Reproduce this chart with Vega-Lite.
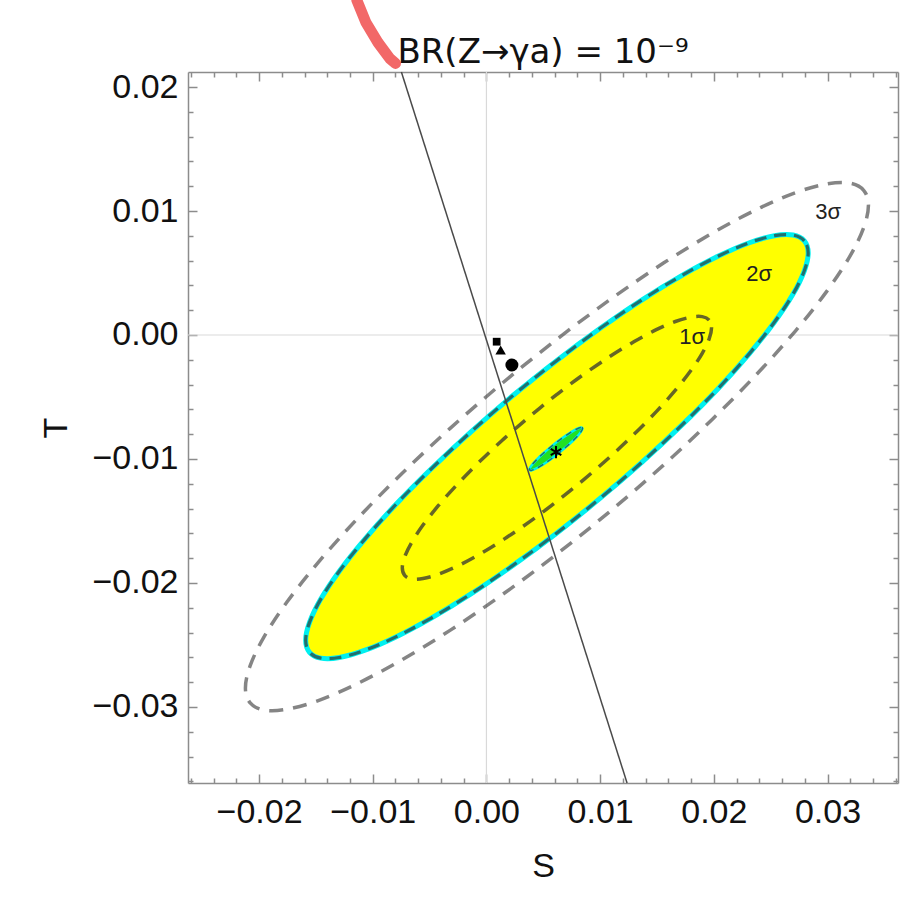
{
  "$schema": "https://vega.github.io/schema/vega-lite/v6.json",
  "width": 710,
  "height": 711,
  "autosize": {"type": "none"},
  "padding": {"left": 188, "top": 72, "right": 24, "bottom": 122},
  "background": "white",
  "config": {"view": {"stroke": null}, "font": "Liberation Sans"},
  "title": {
    "text": "BR(Z→γa) = 10⁻⁹",
    "font": "DejaVu Sans",
    "fontSize": 34,
    "fontWeight": "normal",
    "color": "#111111",
    "anchor": "middle",
    "baseline": "alphabetic",
    "offset": -102
  },
  "datasets": {
    "sigma3": [
      {"i": 0, "S": 0.03360, "T": 0.01046}, {"i": 1, "S": 0.03318, "T": 0.01167},
      {"i": 2, "S": 0.03195, "T": 0.01225}, {"i": 3, "S": 0.02993, "T": 0.01218},
      {"i": 4, "S": 0.02719, "T": 0.01148}, {"i": 5, "S": 0.02381, "T": 0.01014},
      {"i": 6, "S": 0.01990, "T": 0.00823}, {"i": 7, "S": 0.01557, "T": 0.00580},
      {"i": 8, "S": 0.01096, "T": 0.00291}, {"i": 9, "S": 0.00620, "T": -0.00034},
      {"i": 10, "S": 0.00144, "T": -0.00385}, {"i": 11, "S": -0.00317, "T": -0.00751},
      {"i": 12, "S": -0.00750, "T": -0.01123}, {"i": 13, "S": -0.01141, "T": -0.01487},
      {"i": 14, "S": -0.01479, "T": -0.01834}, {"i": 15, "S": -0.01753, "T": -0.02152},
      {"i": 16, "S": -0.01955, "T": -0.02432}, {"i": 17, "S": -0.02078, "T": -0.02666},
      {"i": 18, "S": -0.02120, "T": -0.02846}, {"i": 19, "S": -0.02078, "T": -0.02967},
      {"i": 20, "S": -0.01955, "T": -0.03025}, {"i": 21, "S": -0.01753, "T": -0.03018},
      {"i": 22, "S": -0.01479, "T": -0.02948}, {"i": 23, "S": -0.01141, "T": -0.02814},
      {"i": 24, "S": -0.00750, "T": -0.02623}, {"i": 25, "S": -0.00317, "T": -0.02380},
      {"i": 26, "S": 0.00144, "T": -0.02091}, {"i": 27, "S": 0.00620, "T": -0.01766},
      {"i": 28, "S": 0.01096, "T": -0.01415}, {"i": 29, "S": 0.01557, "T": -0.01049},
      {"i": 30, "S": 0.01990, "T": -0.00677}, {"i": 31, "S": 0.02381, "T": -0.00313},
      {"i": 32, "S": 0.02719, "T": 0.00034}, {"i": 33, "S": 0.02993, "T": 0.00352},
      {"i": 34, "S": 0.03195, "T": 0.00632}, {"i": 35, "S": 0.03318, "T": 0.00866}
    ],
    "sigma2": [
      {"i": 0, "S": 0.02830, "T": 0.00662}, {"i": 1, "S": 0.02796, "T": 0.00759},
      {"i": 2, "S": 0.02697, "T": 0.00806}, {"i": 3, "S": 0.02534, "T": 0.00801},
      {"i": 4, "S": 0.02313, "T": 0.00744}, {"i": 5, "S": 0.02041, "T": 0.00637},
      {"i": 6, "S": 0.01725, "T": 0.00483}, {"i": 7, "S": 0.01376, "T": 0.00288},
      {"i": 8, "S": 0.01004, "T": 0.00056}, {"i": 9, "S": 0.00620, "T": -0.00205},
      {"i": 10, "S": 0.00236, "T": -0.00486}, {"i": 11, "S": -0.00136, "T": -0.00781},
      {"i": 12, "S": -0.00485, "T": -0.01079}, {"i": 13, "S": -0.00801, "T": -0.01371},
      {"i": 14, "S": -0.01073, "T": -0.01650}, {"i": 15, "S": -0.01294, "T": -0.01905},
      {"i": 16, "S": -0.01457, "T": -0.02130}, {"i": 17, "S": -0.01556, "T": -0.02318},
      {"i": 18, "S": -0.01590, "T": -0.02462}, {"i": 19, "S": -0.01556, "T": -0.02559},
      {"i": 20, "S": -0.01457, "T": -0.02606}, {"i": 21, "S": -0.01294, "T": -0.02601},
      {"i": 22, "S": -0.01073, "T": -0.02544}, {"i": 23, "S": -0.00801, "T": -0.02437},
      {"i": 24, "S": -0.00485, "T": -0.02283}, {"i": 25, "S": -0.00136, "T": -0.02088},
      {"i": 26, "S": 0.00236, "T": -0.01856}, {"i": 27, "S": 0.00620, "T": -0.01596},
      {"i": 28, "S": 0.01004, "T": -0.01314}, {"i": 29, "S": 0.01376, "T": -0.01019},
      {"i": 30, "S": 0.01725, "T": -0.00721}, {"i": 31, "S": 0.02041, "T": -0.00429},
      {"i": 32, "S": 0.02313, "T": -0.00150}, {"i": 33, "S": 0.02534, "T": 0.00105},
      {"i": 34, "S": 0.02697, "T": 0.00330}, {"i": 35, "S": 0.02796, "T": 0.00518}
    ],
    "sigma1": [
      {"i": 0, "S": 0.01980, "T": 0.00058}, {"i": 1, "S": 0.01959, "T": 0.00119},
      {"i": 2, "S": 0.01898, "T": 0.00148}, {"i": 3, "S": 0.01798, "T": 0.00144},
      {"i": 4, "S": 0.01662, "T": 0.00109}, {"i": 5, "S": 0.01494, "T": 0.00043},
      {"i": 6, "S": 0.01300, "T": -0.00053}, {"i": 7, "S": 0.01085, "T": -0.00174},
      {"i": 8, "S": 0.00856, "T": -0.00317}, {"i": 9, "S": 0.00620, "T": -0.00479},
      {"i": 10, "S": 0.00384, "T": -0.00654}, {"i": 11, "S": 0.00155, "T": -0.00836},
      {"i": 12, "S": -0.00060, "T": -0.01021}, {"i": 13, "S": -0.00254, "T": -0.01202},
      {"i": 14, "S": -0.00422, "T": -0.01375}, {"i": 15, "S": -0.00558, "T": -0.01533},
      {"i": 16, "S": -0.00658, "T": -0.01673}, {"i": 17, "S": -0.00719, "T": -0.01789},
      {"i": 18, "S": -0.00740, "T": -0.01878}, {"i": 19, "S": -0.00719, "T": -0.01939},
      {"i": 20, "S": -0.00658, "T": -0.01968}, {"i": 21, "S": -0.00558, "T": -0.01964},
      {"i": 22, "S": -0.00422, "T": -0.01929}, {"i": 23, "S": -0.00254, "T": -0.01863},
      {"i": 24, "S": -0.00060, "T": -0.01768}, {"i": 25, "S": 0.00155, "T": -0.01646},
      {"i": 26, "S": 0.00384, "T": -0.01503}, {"i": 27, "S": 0.00620, "T": -0.01341},
      {"i": 28, "S": 0.00856, "T": -0.01166}, {"i": 29, "S": 0.01085, "T": -0.00984},
      {"i": 30, "S": 0.01300, "T": -0.00799}, {"i": 31, "S": 0.01494, "T": -0.00618},
      {"i": 32, "S": 0.01662, "T": -0.00445}, {"i": 33, "S": 0.01798, "T": -0.00287},
      {"i": 34, "S": 0.01898, "T": -0.00148}, {"i": 35, "S": 0.01959, "T": -0.00031}
    ],
    "core": [
      {"i": 0, "S": 0.00845, "T": -0.00754}, {"i": 1, "S": 0.00831, "T": -0.00746},
      {"i": 2, "S": 0.00791, "T": -0.00760}, {"i": 3, "S": 0.00729, "T": -0.00793},
      {"i": 4, "S": 0.00652, "T": -0.00841}, {"i": 5, "S": 0.00572, "T": -0.00898},
      {"i": 6, "S": 0.00496, "T": -0.00958}, {"i": 7, "S": 0.00434, "T": -0.01013},
      {"i": 8, "S": 0.00393, "T": -0.01057}, {"i": 9, "S": 0.00379, "T": -0.01084},
      {"i": 10, "S": 0.00393, "T": -0.01092}, {"i": 11, "S": 0.00434, "T": -0.01078},
      {"i": 12, "S": 0.00496, "T": -0.01046}, {"i": 13, "S": 0.00572, "T": -0.00998},
      {"i": 14, "S": 0.00652, "T": -0.00940}, {"i": 15, "S": 0.00729, "T": -0.00880},
      {"i": 16, "S": 0.00791, "T": -0.00825}, {"i": 17, "S": 0.00831, "T": -0.00781}
    ],
    "constraint": [
      {"S": -0.00748, "T": 0.02121},
      {"S": 0.01237, "T": -0.03613}
    ],
    "stroke": [
      {"i": 0, "S": -0.01140, "T": 0.02700},
      {"i": 1, "S": -0.01060, "T": 0.02520},
      {"i": 2, "S": -0.00955, "T": 0.02360},
      {"i": 3, "S": -0.00850, "T": 0.02230},
      {"i": 4, "S": -0.00800, "T": 0.02190}
    ],
    "models": [
      {"model": "A", "S": 0.00090, "T": -0.00054},
      {"model": "B", "S": 0.00125, "T": -0.00121},
      {"model": "C", "S": 0.00224, "T": -0.00242}
    ],
    "bestfit": [{"S": 0.00612, "T": -0.00944}],
    "labels": [
      {"text": "1σ", "S": 0.01809, "T": -0.00016},
      {"text": "2σ", "S": 0.02399, "T": 0.00492},
      {"text": "3σ", "S": 0.03006, "T": 0.00992}
    ]
  },
  "layer": [
    {
      "data": {"values": [{"S": 0}]},
      "mark": {"type": "rule", "color": "#d9d9d9", "strokeWidth": 1.2},
      "encoding": {
        "x": {"field": "S", "type": "quantitative", "axis": null,
              "scale": {"domain": [-0.02625, 0.0362], "nice": false, "zero": false}}
      }
    },
    {
      "data": {"values": [{"T": 0}]},
      "mark": {"type": "rule", "color": "#d9d9d9", "strokeWidth": 1.2},
      "encoding": {
        "y": {"field": "T", "type": "quantitative", "axis": null,
              "scale": {"domain": [-0.03613, 0.02121], "nice": false, "zero": false}}
      }
    },
    {
      "data": {"name": "sigma3"},
      "mark": {"type": "line", "interpolate": "cardinal-closed", "stroke": "#333333", "strokeOpacity": 0.6, "strokeWidth": 3.5, "strokeDash": [14, 10]},
      "encoding": {
        "x": {"field": "S", "type": "quantitative",
              "scale": {"domain": [-0.02625, 0.0362], "nice": false, "zero": false},
              "axis": {
                "orient": "bottom",
                "values": [-0.026, -0.024, -0.022, -0.02, -0.018, -0.016, -0.014, -0.012, -0.01, -0.008, -0.006, -0.004, -0.002, 0, 0.002, 0.004, 0.006, 0.008, 0.01, 0.012, 0.014, 0.016, 0.018, 0.02, 0.022, 0.024, 0.026, 0.028, 0.03, 0.032, 0.034, 0.036],
                "labelExpr": "abs(datum.value * 100 - round(datum.value * 100)) < 0.01 ? format(datum.value, '.2f') : ''",
                "grid": false,
                "tickSize": -9,
                "tickDash": {"condition": {"test": "abs(datum.value * 100 - round(datum.value * 100)) < 0.01", "value": [9, 0]}, "value": [5, 30]},
                "tickColor": "#8c8c8c", "tickWidth": 1.5,
                "domainColor": "#8c8c8c", "domainWidth": 1.5,
                "labelFont": "Liberation Sans", "labelFontSize": 34, "labelColor": "#111111",
                "labelPadding": 21, "labelFlush": false, "labelOverlap": false, "labelBound": false,
                "title": "S", "titleFont": "Liberation Sans", "titleFontSize": 34, "titleFontWeight": "normal",
                "titleColor": "#111111", "titlePadding": 20
              }},
        "y": {"field": "T", "type": "quantitative",
              "scale": {"domain": [-0.03613, 0.02121], "nice": false, "zero": false},
              "axis": {
                "orient": "left",
                "values": [-0.036, -0.034, -0.032, -0.03, -0.028, -0.026, -0.024, -0.022, -0.02, -0.018, -0.016, -0.014, -0.012, -0.01, -0.008, -0.006, -0.004, -0.002, 0, 0.002, 0.004, 0.006, 0.008, 0.01, 0.012, 0.014, 0.016, 0.018, 0.02],
                "labelExpr": "abs(datum.value * 100 - round(datum.value * 100)) < 0.01 ? format(datum.value, '.2f') : ''",
                "grid": false,
                "tickSize": -9,
                "tickDash": {"condition": {"test": "abs(datum.value * 100 - round(datum.value * 100)) < 0.01", "value": [9, 0]}, "value": [5, 30]},
                "tickColor": "#8c8c8c", "tickWidth": 1.5,
                "domainColor": "#8c8c8c", "domainWidth": 1.5,
                "labelFont": "Liberation Sans", "labelFontSize": 34, "labelColor": "#111111",
                "labelPadding": 19, "labelFlush": false, "labelOverlap": false, "labelBound": false,
                "title": "T", "titleFont": "Liberation Sans", "titleFontSize": 34, "titleFontWeight": "normal",
                "titleColor": "#111111", "titlePadding": 18
              }},
        "order": {"field": "i", "type": "quantitative"}
      }
    },
    {
      "data": {"name": "sigma2"},
      "mark": {"type": "line", "interpolate": "cardinal-closed", "fill": "#ffff00", "stroke": "#00f0f0", "strokeWidth": 5},
      "encoding": {
        "x": {"field": "S", "type": "quantitative",
              "scale": {"domain": [-0.02625, 0.0362], "nice": false, "zero": false},
              "axis": {
                "orient": "top",
                "values": [-0.026, -0.024, -0.022, -0.02, -0.018, -0.016, -0.014, -0.012, -0.01, -0.008, -0.006, -0.004, -0.002, 0, 0.002, 0.004, 0.006, 0.008, 0.01, 0.012, 0.014, 0.016, 0.018, 0.02, 0.022, 0.024, 0.026, 0.028, 0.03, 0.032, 0.034, 0.036],
                "labels": false, "grid": false, "title": null,
                "tickSize": -9,
                "tickDash": {"condition": {"test": "abs(datum.value * 100 - round(datum.value * 100)) < 0.01", "value": [9, 0]}, "value": [5, 30]},
                "tickColor": "#8c8c8c", "tickWidth": 1.5,
                "domainColor": "#8c8c8c", "domainWidth": 1.5
              }},
        "y": {"field": "T", "type": "quantitative",
              "scale": {"domain": [-0.03613, 0.02121], "nice": false, "zero": false},
              "axis": {
                "orient": "right",
                "values": [-0.036, -0.034, -0.032, -0.03, -0.028, -0.026, -0.024, -0.022, -0.02, -0.018, -0.016, -0.014, -0.012, -0.01, -0.008, -0.006, -0.004, -0.002, 0, 0.002, 0.004, 0.006, 0.008, 0.01, 0.012, 0.014, 0.016, 0.018, 0.02],
                "labels": false, "grid": false, "title": null,
                "tickSize": -9,
                "tickDash": {"condition": {"test": "abs(datum.value * 100 - round(datum.value * 100)) < 0.01", "value": [9, 0]}, "value": [5, 30]},
                "tickColor": "#8c8c8c", "tickWidth": 1.5,
                "domainColor": "#8c8c8c", "domainWidth": 1.5
              }},
        "order": {"field": "i", "type": "quantitative"}
      }
    },
    {
      "data": {"name": "sigma2"},
      "mark": {"type": "line", "interpolate": "cardinal-closed", "stroke": "#21706f", "strokeWidth": 3.2, "strokeDash": [12, 8]},
      "encoding": {
        "x": {"field": "S", "type": "quantitative", "axis": null,
              "scale": {"domain": [-0.02625, 0.0362], "nice": false, "zero": false}},
        "y": {"field": "T", "type": "quantitative", "axis": null,
              "scale": {"domain": [-0.03613, 0.02121], "nice": false, "zero": false}},
        "order": {"field": "i", "type": "quantitative"}
      }
    },
    {
      "data": {"name": "sigma1"},
      "mark": {"type": "line", "interpolate": "cardinal-closed", "stroke": "#333333", "strokeOpacity": 0.75, "strokeWidth": 3.5, "strokeDash": [14, 10]},
      "encoding": {
        "x": {"field": "S", "type": "quantitative", "axis": null,
              "scale": {"domain": [-0.02625, 0.0362], "nice": false, "zero": false}},
        "y": {"field": "T", "type": "quantitative", "axis": null,
              "scale": {"domain": [-0.03613, 0.02121], "nice": false, "zero": false}},
        "order": {"field": "i", "type": "quantitative"}
      }
    },
    {
      "data": {"name": "core"},
      "mark": {"type": "line", "interpolate": "cardinal-closed", "fill": "#22e022", "stroke": "#00f0f0", "strokeWidth": 2.5},
      "encoding": {
        "x": {"field": "S", "type": "quantitative", "axis": null,
              "scale": {"domain": [-0.02625, 0.0362], "nice": false, "zero": false}},
        "y": {"field": "T", "type": "quantitative", "axis": null,
              "scale": {"domain": [-0.03613, 0.02121], "nice": false, "zero": false}},
        "order": {"field": "i", "type": "quantitative"}
      }
    },
    {
      "data": {"name": "core"},
      "mark": {"type": "line", "interpolate": "cardinal-closed", "stroke": "#21706f", "strokeWidth": 1.5, "strokeDash": [6, 5]},
      "encoding": {
        "x": {"field": "S", "type": "quantitative", "axis": null,
              "scale": {"domain": [-0.02625, 0.0362], "nice": false, "zero": false}},
        "y": {"field": "T", "type": "quantitative", "axis": null,
              "scale": {"domain": [-0.03613, 0.02121], "nice": false, "zero": false}},
        "order": {"field": "i", "type": "quantitative"}
      }
    },
    {
      "data": {"name": "constraint"},
      "mark": {"type": "line", "stroke": "#4a4a4a", "strokeWidth": 1.5},
      "encoding": {
        "x": {"field": "S", "type": "quantitative", "axis": null,
              "scale": {"domain": [-0.02625, 0.0362], "nice": false, "zero": false}},
        "y": {"field": "T", "type": "quantitative", "axis": null,
              "scale": {"domain": [-0.03613, 0.02121], "nice": false, "zero": false}}
      }
    },
    {
      "data": {"name": "stroke"},
      "mark": {"type": "line", "clip": false, "stroke": "#f26868", "strokeWidth": 11, "strokeCap": "round", "strokeJoin": "round"},
      "encoding": {
        "x": {"field": "S", "type": "quantitative", "axis": null,
              "scale": {"domain": [-0.02625, 0.0362], "nice": false, "zero": false}},
        "y": {"field": "T", "type": "quantitative", "axis": null,
              "scale": {"domain": [-0.03613, 0.02121], "nice": false, "zero": false}},
        "order": {"field": "i", "type": "quantitative"}
      }
    },
    {
      "data": {"name": "models"},
      "transform": [{"filter": "datum.model === 'A'"}],
      "mark": {"type": "point", "shape": "square", "filled": true, "color": "black", "opacity": 1, "size": 60},
      "encoding": {
        "x": {"field": "S", "type": "quantitative", "axis": null,
              "scale": {"domain": [-0.02625, 0.0362], "nice": false, "zero": false}},
        "y": {"field": "T", "type": "quantitative", "axis": null,
              "scale": {"domain": [-0.03613, 0.02121], "nice": false, "zero": false}}
      }
    },
    {
      "data": {"name": "models"},
      "transform": [{"filter": "datum.model === 'B'"}],
      "mark": {"type": "point", "shape": "triangle-up", "filled": true, "color": "black", "opacity": 1, "size": 110},
      "encoding": {
        "x": {"field": "S", "type": "quantitative", "axis": null,
              "scale": {"domain": [-0.02625, 0.0362], "nice": false, "zero": false}},
        "y": {"field": "T", "type": "quantitative", "axis": null,
              "scale": {"domain": [-0.03613, 0.02121], "nice": false, "zero": false}}
      }
    },
    {
      "data": {"name": "models"},
      "transform": [{"filter": "datum.model === 'C'"}],
      "mark": {"type": "point", "shape": "circle", "filled": true, "color": "black", "opacity": 1, "size": 169},
      "encoding": {
        "x": {"field": "S", "type": "quantitative", "axis": null,
              "scale": {"domain": [-0.02625, 0.0362], "nice": false, "zero": false}},
        "y": {"field": "T", "type": "quantitative", "axis": null,
              "scale": {"domain": [-0.03613, 0.02121], "nice": false, "zero": false}}
      }
    },
    {
      "data": {"name": "bestfit"},
      "mark": {"type": "point", "shape": "M0,-1L0,1M-0.866,-0.5L0.866,0.5M-0.866,0.5L0.866,-0.5", "filled": false, "stroke": "black", "strokeWidth": 2, "opacity": 1, "size": 150},
      "encoding": {
        "x": {"field": "S", "type": "quantitative", "axis": null,
              "scale": {"domain": [-0.02625, 0.0362], "nice": false, "zero": false}},
        "y": {"field": "T", "type": "quantitative", "axis": null,
              "scale": {"domain": [-0.03613, 0.02121], "nice": false, "zero": false}}
      }
    },
    {
      "data": {"name": "labels"},
      "mark": {"type": "text", "font": "Liberation Sans", "fontSize": 22, "color": "#222222", "align": "center", "baseline": "middle"},
      "encoding": {
        "x": {"field": "S", "type": "quantitative", "axis": null,
              "scale": {"domain": [-0.02625, 0.0362], "nice": false, "zero": false}},
        "y": {"field": "T", "type": "quantitative", "axis": null,
              "scale": {"domain": [-0.03613, 0.02121], "nice": false, "zero": false}},
        "text": {"field": "text", "type": "nominal"}
      }
    }
  ]
}
